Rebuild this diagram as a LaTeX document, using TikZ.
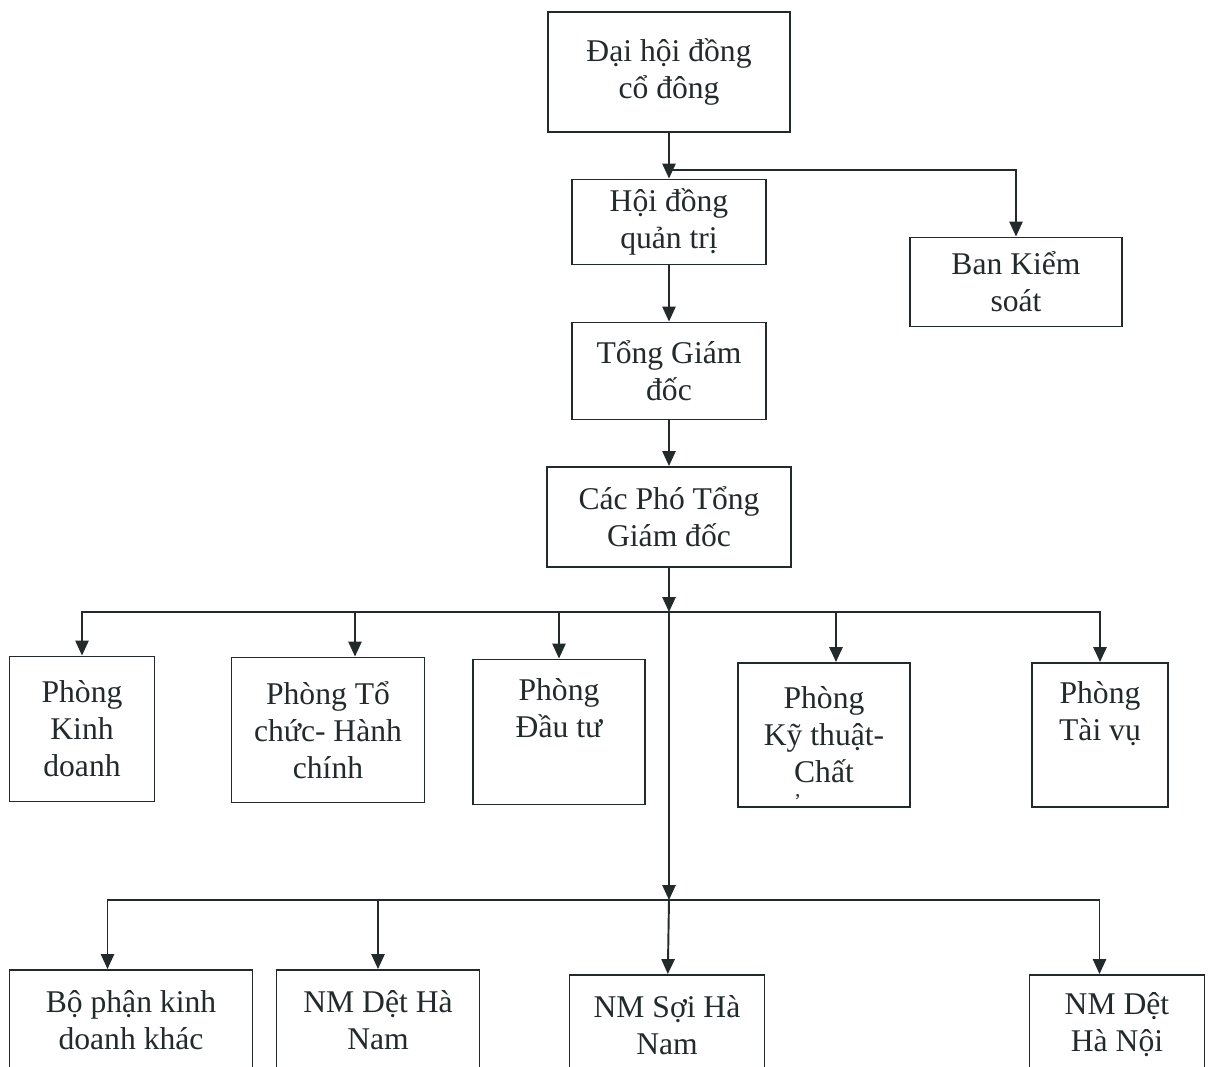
\documentclass[tikz,border=0pt]{standalone}
\usepackage{fontspec}
\setmainfont{Liberation Serif}
\usepackage{tikz}
\usetikzlibrary{arrows.meta}
\definecolor{ink}{RGB}{35,42,44}
\tikzstyle{unit}=[rectangle,draw=ink,line width=1.1pt,text=ink,align=center,inner sep=0mm,font=\fontsize{18}{21}\selectfont]
\tikzstyle{link}=[-{Triangle[length=8.5pt,width=7.5pt]},draw=ink,line width=1.1pt]

\begin{document}
\begin{tikzpicture}[x=0.02cm,y=-0.02cm]
        \clip (0,0) rectangle (1208,1066);
        \fill[white] (0,0) rectangle (1208,1066);
        % top of the chart
        \node[unit,minimum width=4.84cm,minimum height=2.4cm] at (669,72) (dh) {Đại hội đồng\\cổ đông};
        \node[unit,minimum width=3.88cm,minimum height=1.7cm] at (669,222) (hd) {Hội đồng\\quản trị};
        \node[unit,minimum width=4.24cm,minimum height=1.78cm] at (1016,282) (bks) {Ban Kiểm\\soát};
        \node[unit,minimum width=3.88cm,minimum height=1.94cm] at (669,371) (tgd) {Tổng Giám\\đốc};
        \node[unit,minimum width=4.88cm,minimum height=2cm] at (669,517) (pho) {Các Phó Tổng\\Giám đốc};
        % departments
        \node[unit,minimum width=2.9cm,minimum height=2.9cm] at (82,729) (kd) {Phòng\\Kinh\\doanh};
        \node[unit,minimum width=3.86cm,minimum height=2.9cm] at (328,730) (tc) {Phòng Tổ\\chức- Hành\\chính};
        \node[unit,minimum width=3.44cm,minimum height=2.9cm] at (559,732) (dt) {Phòng\\Đầu tư\\\strut};
        \node[unit,minimum width=3.44cm,minimum height=2.88cm] at (824,735) (kt) {Phòng\\Kỹ thuật-\\\rlap{\smash{\raisebox{-0.8em}{\fontsize{12}{12}\selectfont'}}}Chất};
        \node[unit,minimum width=2.72cm,minimum height=2.88cm] at (1100,735) (tv) {Phòng\\Tài vụ\\\strut};
        % factories
        \node[unit,minimum width=4.86cm,minimum height=2cm] at (131,1020) (bp) {Bộ phận kinh\\doanh khác};
        \node[unit,minimum width=4.06cm,minimum height=2cm] at (378,1020) (dhn) {NM Dệt Hà\\Nam};
        \node[unit,minimum width=3.9cm,minimum height=2cm] at (667,1025) (shn) {NM Sợi Hà\\Nam};
        \node[unit,minimum width=3.5cm,minimum height=2cm] at (1117,1025) (dhnoi) {NM Dệt\\Hà Nội};
        \coordinate (j1) at (669,170);
        \coordinate (j2) at (669,612);
        \coordinate (j3) at (669,900);
        \draw[link] (dh) to (hd);
        \draw[link] (j1) -| (bks);
        \draw[link] (hd) to (tgd);
        \draw[link] (tgd) to (pho);
        \draw[link] (pho) to (j2);
        \draw[link] (j2) to (j3);
        \draw[link] (j2) -| (kd);
        \draw[link] (j2) -| ([xshift=0.54cm]tc.north);
        \draw[link] (j2) -| (dt);
        \draw[link] (j2) -| ([xshift=0.24cm]kt.north);
        \draw[link] (j2) -| (tv);
        \draw[link] (j3) -| ([xshift=-0.47cm]bp.north);
        \draw[link] (j3) -| (dhn);
        \draw[link] (j3) to (shn);
        \draw[link] (j3) -| ([xshift=-0.35cm]dhnoi.north);
      \end{tikzpicture}
\end{document}
